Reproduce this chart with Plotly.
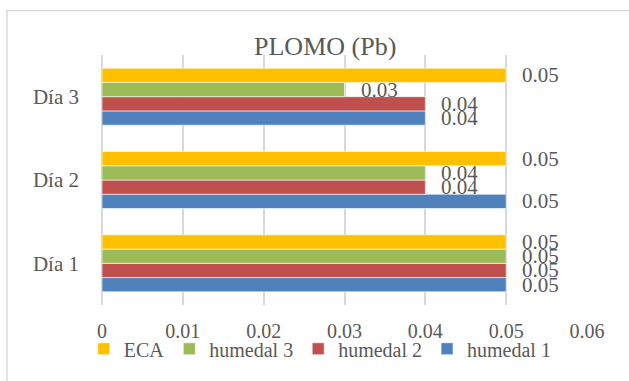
import plotly.graph_objects as go

# Lead (Pb) concentration per sampling day
dias = ["Día 1", "Día 2", "Día 3"]
humedal_1 = [0.05, 0.05, 0.04]
humedal_2 = [0.05, 0.04, 0.04]
humedal_3 = [0.05, 0.04, 0.03]
eca = [0.05, 0.05, 0.05]

series_names = ["humedal 1", "humedal 2", "humedal 3", "ECA"]
series_values = [humedal_1, humedal_2, humedal_3, eca]
series_colors = ["#4F81BD", "#C0504D", "#9BBB59", "#FFC000"]

x_ticks = [0, 0.01, 0.02, 0.03, 0.04, 0.05, 0.06]

FONT = "Liberation Serif, Times New Roman, serif"
TEXT = "#595959"
GRID = "#D9D9D9"

fig = go.Figure()
for name, vals, color in zip(series_names, series_values, series_colors):
    fig.add_trace(go.Bar(
        y=dias, x=vals, name=name, orientation="h",
        marker=dict(color=color, line=dict(color="white", width=0.6)),
    ))

# value labels to the right of every bar, offset vertically by slot in the group
plot_h = 250
group_frac = 1 - 0.316
bar_px = plot_h / len(dias) * group_frac / len(series_names)
for i, vals in enumerate(series_values):
    for d, v in zip(dias, vals):
        fig.add_annotation(
            x=v, y=d, text=f"{v:g}", showarrow=False,
            xanchor="left", yanchor="middle", xshift=14,
            yshift=(i - (len(series_names) - 1) / 2) * bar_px,
            font=dict(family=FONT, size=21, color=TEXT),
        )

# chart-area border
fig.add_shape(type="rect", xref="paper", yref="paper",
              x0=-0.196, x1=1.11, y0=-0.4, y1=1.178,
              line=dict(color=GRID, width=1.5), fillcolor="rgba(0,0,0,0)",
              layer="below")

fig.update_layout(
    width=629, height=381,
    margin=dict(l=102, r=42, t=55, b=76),
    paper_bgcolor="white", plot_bgcolor="white",
    barmode="group", bargap=0.316, bargroupgap=0,
    font=dict(family=FONT, color=TEXT),
    title=dict(text="PLOMO (Pb)", x=0.517, xanchor="center",
               y=1 - 46 / 381, yanchor="middle",
               font=dict(family=FONT, size=26, color=TEXT)),
    xaxis=dict(range=[0, 0.06], tickvals=x_ticks,
               ticktext=[f"{t:g}" for t in x_ticks],
               showgrid=True, gridcolor=GRID, gridwidth=1.5,
               zeroline=True, zerolinecolor=GRID, zerolinewidth=1.5,
               showline=False, ticks="", ticklabelstandoff=12,
               tickfont=dict(family=FONT, size=20, color=TEXT),
               fixedrange=True),
    yaxis=dict(type="category", categoryorder="array", categoryarray=dias,
               showgrid=False, zeroline=False, showline=False, ticks="",
               ticklabelstandoff=22,
               tickfont=dict(family=FONT, size=21, color=TEXT),
               fixedrange=True),
    legend=dict(orientation="h", traceorder="reversed",
                x=0.45, xanchor="center", y=-0.175, yanchor="middle",
                font=dict(family=FONT, size=20, color=TEXT),
                itemwidth=30, bgcolor="rgba(0,0,0,0)"),
    showlegend=True,
)

fig.write_html("out.html")
